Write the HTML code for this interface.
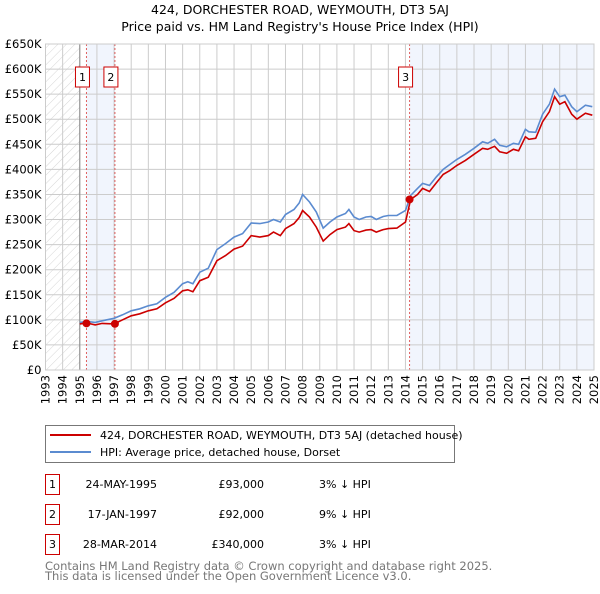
<!DOCTYPE html>
<html><head><meta charset="utf-8"><style>
body{margin:0;background:#fff;font-family:"DejaVu Sans","Liberation Sans",sans-serif;}
</style></head><body>
<svg id="chart" width="600" height="590" xmlns="http://www.w3.org/2000/svg" font-family="DejaVu Sans, Liberation Sans, sans-serif">
<defs><pattern id="hatch" width="6" height="6" patternUnits="userSpaceOnUse" patternTransform="rotate(45)"><line x1="0" y1="0" x2="0" y2="6" stroke="#ccc" stroke-width="0.8"/></pattern></defs>
<text x="300" y="14" text-anchor="middle" font-size="12.5">424, DORCHESTER ROAD, WEYMOUTH, DT3 5AJ</text>
<text x="300" y="31" text-anchor="middle" font-size="12.5">Price paid vs. HM Land Registry's House Price Index (HPI)</text>
<g id="plot"></g>
<g>
<rect x="45.5" y="425.5" width="409" height="37" fill="#fff" stroke="#777"/>
<line x1="50" y1="435" x2="91" y2="435" stroke="#cc0000" stroke-width="2"/>
<text x="100" y="439" font-size="11">424, DORCHESTER ROAD, WEYMOUTH, DT3 5AJ (detached house)</text>
<line x1="50" y1="452" x2="91" y2="452" stroke="#5b8bd0" stroke-width="2"/>
<text x="100" y="456" font-size="11">HPI: Average price, detached house, Dorset</text>
</g>
<g id="table" font-size="11"></g>
<text x="45" y="570" font-size="11.5" fill="#777">Contains HM Land Registry data © Crown copyright and database right 2025.</text>
<text x="45" y="580" font-size="11.5" fill="#777">This data is licensed under the Open Government Licence v3.0.</text>
</svg>
<script>
const yearTicks=[1993,1994,1995,1996,1997,1998,1999,2000,2001,2002,2003,2004,2005,2006,2007,2008,2009,2010,2011,2012,2013,2014,2015,2016,2017,2018,2019,2020,2021,2022,2023,2024,2025];
const valueTicks=[0,50000,100000,150000,200000,250000,300000,350000,400000,450000,500000,550000,600000,650000];
const valueTickLabels=["£0","£50K","£100K","£150K","£200K","£250K","£300K","£350K","£400K","£450K","£500K","£550K","£600K","£650K"];
const hpiDates=[1995.0,1995.4,1995.9,1996.3,1997.0,1997.5,1998.0,1998.5,1999.0,1999.5,2000.0,2000.5,2001.0,2001.3,2001.6,2002.0,2002.5,2003.0,2003.5,2004.0,2004.5,2005.0,2005.5,2006.0,2006.3,2006.7,2007.0,2007.5,2007.8,2008.0,2008.4,2008.8,2009.2,2009.6,2010.0,2010.5,2010.7,2011.0,2011.3,2011.7,2012.0,2012.3,2012.7,2013.0,2013.5,2014.0,2014.3,2014.7,2015.0,2015.4,2015.8,2016.2,2016.6,2017.0,2017.5,2018.0,2018.5,2018.8,2019.2,2019.5,2019.9,2020.3,2020.6,2021.0,2021.2,2021.6,2022.0,2022.4,2022.7,2023.0,2023.3,2023.7,2024.0,2024.5,2024.9];
const hpiValues=[95000,97000,95000,98000,103000,110000,118000,122000,128000,132000,145000,155000,172000,176000,172000,195000,203000,240000,252000,265000,272000,293000,292000,295000,300000,295000,310000,320000,333000,350000,335000,315000,283000,295000,305000,312000,320000,305000,300000,305000,306000,300000,306000,308000,308000,318000,348000,362000,372000,368000,385000,400000,410000,420000,430000,442000,455000,452000,460000,448000,445000,452000,450000,480000,475000,474000,510000,530000,560000,545000,548000,525000,515000,528000,525000];
const ppDates=hpiDates;
const ppValues=[92000,94000,90000,93000,92000,100000,108000,112000,118000,122000,134000,143000,158000,160000,156000,178000,185000,218000,228000,241000,247000,268000,265000,268000,275000,268000,282000,292000,304000,318000,305000,285000,257000,270000,280000,285000,292000,278000,275000,279000,280000,275000,280000,282000,283000,295000,340000,350000,362000,356000,373000,390000,398000,408000,418000,430000,442000,440000,446000,435000,432000,440000,437000,465000,460000,462000,495000,515000,545000,530000,535000,510000,500000,512000,508000];
const saleDates=[1995.39,1997.05,2014.24];
const salePrices=[93000,92000,340000];
const saleLabels=["1","2","3"];
const saleDateText=["24-MAY-1995","17-JAN-1997","28-MAR-2014"];
const salePriceText=["£93,000","£92,000","£340,000"];
const saleDiffText=["3% ↓ HPI","9% ↓ HPI","3% ↓ HPI"];

const NS="http://www.w3.org/2000/svg";
const X0=45.5,X1=594,Y0=370,Y1=44;
const xs=y=>X0+(y-1993)/(2025-1993)*(X1-X0);
const ys=v=>Y0-v/650000*(Y0-Y1);
const plot=document.getElementById('plot');
function mk(tag,attrs,parent){const e=document.createElementNS(NS,tag);for(const k in attrs)e.setAttribute(k,attrs[k]);(parent||plot).appendChild(e);return e;}

const r1=mk('rect',{x:xs(saleDates[0]),y:Y1,width:xs(saleDates[1])-xs(saleDates[0]),height:Y0-Y1,fill:'#eef3fc',opacity:0.8});


const r2=mk('rect',{x:xs(saleDates[2]),y:Y1,width:X1-xs(saleDates[2]),height:Y0-Y1,fill:'#eef3fc',opacity:0.8});


const hz=mk('rect',{x:X0,y:Y1,width:xs(1995)-X0,height:Y0-Y1,fill:'url(#hatch)'});



yearTicks.forEach(t=>{
  const l=mk('line',{x1:xs(t),x2:xs(t),y1:Y1,y2:Y0,stroke:'#ccc','stroke-width':1});
  
  
  const tx=mk('text',{transform:`translate(${xs(t)+4},${Y0+5}) rotate(-90)`,'text-anchor':'end','font-size':11.5});
  tx.textContent=t;
  
  
});
valueTicks.forEach((v,i)=>{
  const l=mk('line',{x1:X0,x2:X1,y1:ys(v),y2:ys(v),stroke:'#ccc','stroke-width':1});
  
  
  const tx=mk('text',{x:X0-4,y:ys(v)+4,'text-anchor':'end','font-size':11.5});
  tx.textContent=valueTickLabels[i];
  
  
});
const vl=mk('line',{x1:xs(1995),x2:xs(1995),y1:Y1,y2:Y0,stroke:'#888'});



saleDates.forEach((d,i)=>{
  const l=mk('line',{x1:xs(d),x2:xs(d),y1:Y1,y2:Y0,stroke:'#e06060','stroke-dasharray':'2,2'});
  
  
  const bx=xs(d)-4;
  const b=mk('rect',{x:bx-7,y:67,width:14,height:20,fill:'#fff',stroke:'#cc0000'});
  
  
  const t=mk('text',{x:bx,y:81,'text-anchor':'middle','font-size':11});
  t.textContent=saleLabels[i];
  
  
});

function pathFrom(ds,vs){return ds.map((d,i)=>(i?'L':'M')+xs(d).toFixed(1)+','+ys(vs[i]).toFixed(1)).join('');}
const hp=mk('path',{d:pathFrom(hpiDates,hpiValues),fill:'none',stroke:'#5b8bd0','stroke-width':1.6});


const pp=mk('path',{d:pathFrom(ppDates,ppValues),fill:'none',stroke:'#cc0000','stroke-width':1.6});


saleDates.forEach((d,i)=>{
  const c=mk('circle',{cx:xs(d),cy:ys(salePrices[i]),r:4,fill:'#cc0000'});
  
  
});
const ax=mk('rect',{x:X0,y:Y1,width:X1-X0,height:Y0-Y1,fill:'none',stroke:'#ccc'});



const tbl=document.getElementById('table');
saleDates.forEach((d,i)=>{
  const y=488+i*30;
  const b=mk('rect',{x:45.5,y:y-13.5,width:14,height:20,fill:'none',stroke:'#cc0000'},tbl);
  
  
  const cells=[[52.5,saleLabels[i],'middle'],[157,saleDateText[i],'end'],[264,salePriceText[i],'end'],[319,saleDiffText[i],'start']];
  cells.forEach(c=>{
    const t=mk('text',{x:c[0],y:y,'text-anchor':c[2]},tbl);
    t.textContent=c[1];
    
    
  });
});
</script>
</body></html>
